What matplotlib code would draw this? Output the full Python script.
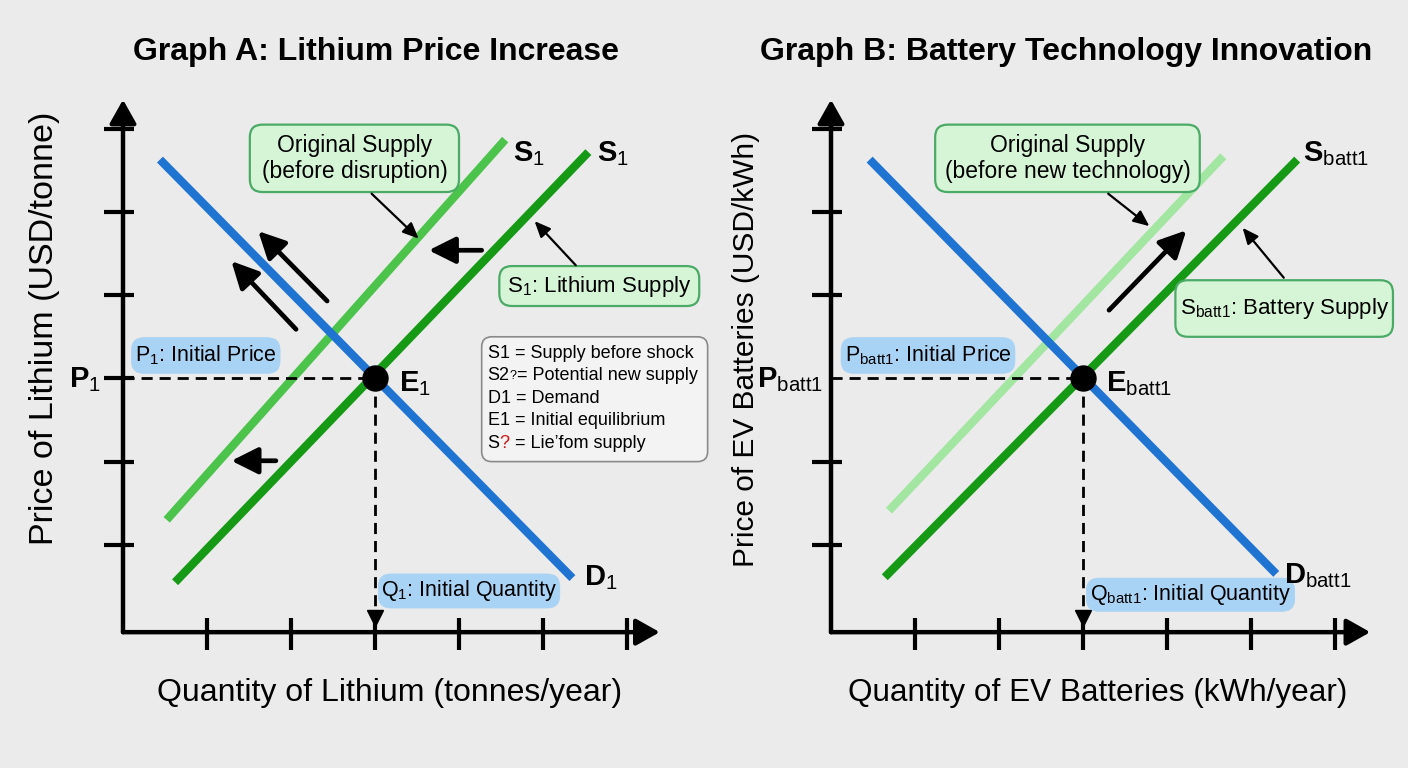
import numpy as np
import matplotlib
matplotlib.use("Agg")
import matplotlib.pyplot as plt
from matplotlib.patches import FancyBboxPatch

plt.rcParams['font.family'] = ['Liberation Sans', 'DejaVu Sans']
plt.rcParams['mathtext.fontset'] = 'custom'
plt.rcParams['mathtext.rm'] = 'Liberation Sans'
plt.rcParams['mathtext.it'] = 'Liberation Sans:italic'
plt.rcParams['mathtext.bf'] = 'Liberation Sans:bold'

# ---- data (graph units: one tick = 1) ----
ticks_x = [1, 2, 3, 4, 5, 6]
ticks_y = [1, 2, 3, 4, 5, 6]

# Graph A: lithium
a_demand_x = [0.44, 5.35]
a_demand_y = [5.63, 0.60]
a_supply_x = [0.62, 5.54]
a_supply_y = [0.55, 5.72]
a_orig_x = [0.52, 4.55]
a_orig_y = [1.30, 5.87]
a_eq = (3.0, 3.0)

# Graph B: batteries
b_demand_x = [0.46, 5.30]
b_demand_y = [5.63, 0.65]
b_supply_x = [0.64, 5.55]
b_supply_y = [0.61, 5.63]
b_orig_x = [0.69, 4.67]
b_orig_y = [1.41, 5.67]
b_eq = (3.0, 3.0)

legend_lines = ["S1 = Supply before shock", "D1 = Demand", "E1 = Initial equilibrium"]

BG = '#ebebeb'
BLUE = '#1f74d2'
DGREEN = '#169a16'
LGREEN_A = '#4cc44c'
LGREEN_B = '#a2e6a2'
GREEN_FC, GREEN_EC = '#d6f5d6', '#4aaa66'
BLUE_FC = '#a9d3f4'

fig = plt.figure(figsize=(14.08, 7.68), dpi=100, facecolor=BG)
W, H = 1408, 768


def make_ax(ox, oy):
    # ox, oy = pixel position of graph origin; 84 px per x unit, 83.2 px per y unit
    ux, uy = 84.0, 83.2
    x0, x1 = -1.2, 7.0
    y0, y1 = -1.2, 7.0
    left = ox + x0 * ux
    bottom = H - (oy - y0 * uy)
    ax = fig.add_axes([left / W, bottom / H, (x1 - x0) * ux / W, (y1 - y0) * uy / H])
    ax.set_xlim(x0, x1)
    ax.set_ylim(y0, y1)
    ax.axis('off')
    ax.patch.set_alpha(0)
    return ax


def draw_axes(ax, xtip, ytip, ptick=True):
    props = dict(arrowstyle='-|>,head_length=0.48,head_width=0.27', lw=3.2, color='k',
                 mutation_scale=30, shrinkA=0, shrinkB=0)
    ax.annotate('', xy=(0, ytip), xytext=(0, -0.05), arrowprops=props)
    ax.annotate('', xy=(xtip, -0.05), xytext=(0, -0.05), arrowprops=props)
    for t in ticks_x:
        ax.plot([t, t], [-0.26, 0.12], color='k', lw=3, solid_capstyle='butt')
    for t in ticks_y:
        if t == 3 and not ptick:
            continue
        ax.plot([-0.23, 0.13], [t, t], color='k', lw=3, solid_capstyle='butt')


def draw_eq(ax, eq):
    q, p = eq
    ax.plot([0, q], [p, p], color='k', lw=2, ls=(0, (4, 2.5)))
    ax.plot([q, q], [p, 0.15], color='k', lw=2, ls=(0, (4, 2.5)))
    ax.plot([q], [0.12], marker='v', color='k', ms=12)
    ax.plot([q], [p], 'o', color='k', ms=18, zorder=6)


def arrow(ax, tail, head, big=True):
    if big:
        props = dict(arrowstyle='-|>,head_width=0.45,head_length=0.9', lw=3.4, color='k',
                     mutation_scale=18, shrinkA=0, shrinkB=0)
    else:
        props = dict(arrowstyle='-|>,head_width=0.35,head_length=0.8', lw=1.6, color='k',
                     mutation_scale=12, shrinkA=0, shrinkB=0)
    ax.annotate('', xy=head, xytext=tail, arrowprops=props, zorder=5)


def box(ax, x0, x1, y0, y1, text, fc, ec, size, lw=1.6, r=0.15):
    ax.add_patch(FancyBboxPatch((x0, y0), x1 - x0, y1 - y0,
                                boxstyle=f'round,pad=0,rounding_size={r}',
                                fc=fc, ec=ec, lw=lw, zorder=3))
    if text:
        ax.text((x0 + x1) / 2, (y0 + y1) / 2, text, ha='center', va='center',
                fontsize=size, linespacing=1.2, zorder=4)


# ================= Graph A =================
axA = make_ax(123, 628)
draw_axes(axA, 6.39, 6.35)
axA.plot(a_orig_x, a_orig_y, color=LGREEN_A, lw=6, solid_capstyle='butt')
axA.plot(a_supply_x, a_supply_y, color=DGREEN, lw=6, solid_capstyle='butt')
axA.plot(a_demand_x, a_demand_y, color=BLUE, lw=6, solid_capstyle='butt')
draw_eq(axA, a_eq)

arrow(axA, (2.43, 3.93), (1.61, 4.77))
arrow(axA, (2.06, 3.59), (1.29, 4.41))
arrow(axA, (4.27, 4.54), (3.64, 4.54))
arrow(axA, (1.82, 2.01), (1.29, 2.01))
arrow(axA, (2.96, 5.22), (3.52, 4.68), big=False)
arrow(axA, (5.39, 4.36), (4.90, 4.89), big=False)

box(axA, 1.51, 4.00, 5.24, 6.05, "Original Supply\n(before disruption)", GREEN_FC, GREEN_EC, 16.5)
box(axA, 4.48, 6.86, 3.87, 4.35, r"S$_1$: Lithium Supply", GREEN_FC, GREEN_EC, 16)
box(axA, 0.10, 1.87, 3.06, 3.49, r"P$_1$: Initial Price", BLUE_FC, BLUE_FC, 15.5, lw=0.5)
box(axA, 3.04, 5.20, 0.24, 0.65, r"Q$_1$: Initial Quantity", BLUE_FC, BLUE_FC, 15.5, lw=0.5)

axA.text(4.64, 5.70, r"$\mathbf{S}_1$", ha='left', va='center', fontsize=21)
axA.text(5.64, 5.70, r"$\mathbf{S}_1$", ha='left', va='center', fontsize=21)
axA.text(5.49, 0.61, r"$\mathbf{D}_1$", ha='left', va='center', fontsize=21)
axA.text(3.29, 2.94, r"$\mathbf{E}_1$", ha='left', va='center', fontsize=21)
axA.text(-0.26, 2.99, r"$\mathbf{P}_1$", ha='right', va='center', fontsize=21)

# legend box
box(axA, 4.27, 6.96, 2.00, 3.50, "", '#f3f3f3', '#8a8a8a', 13, lw=1.2, r=0.12)
lx = 4.34
ly = [3.30, 3.03, 2.76, 2.49, 2.22]
axA.text(lx, ly[0], legend_lines[0], ha='left', va='center', fontsize=13, zorder=4)
s2 = axA.text(lx, ly[1], "S2", ha='left', va='center', fontsize=13, zorder=4)
q2 = axA.annotate("?", xy=(1, 0.12), xycoords=s2, ha='left', va='bottom', fontsize=9, zorder=4)
axA.annotate("= Potential new supply", xy=(1, 0), xycoords=(q2, s2), ha='left', va='bottom',
             fontsize=13, zorder=4)
axA.text(lx, ly[2], legend_lines[1], ha='left', va='center', fontsize=13, zorder=4)
axA.text(lx, ly[3], legend_lines[2], ha='left', va='center', fontsize=13, zorder=4)
t1 = axA.text(lx, ly[4], "S", ha='left', va='center', fontsize=13, zorder=4)
t2 = axA.annotate("?", xy=(1, 0), xycoords=t1, ha='left', va='bottom', fontsize=13,
                  color='#d01818', zorder=4)
axA.annotate(" = Lie\u2019fom supply", xy=(1, 0), xycoords=t2, ha='left', va='bottom',
             fontsize=13, zorder=4)

fig.text(376 / W, 1 - 52 / H, "Graph A: Lithium Price Increase", ha='center', va='center',
         fontsize=23, fontweight='bold')
fig.text(45 / W, 1 - 328 / H, "Price of Lithium (USD/tonne)", ha='center', va='center',
         fontsize=24.5, rotation=90)
fig.text(390 / W, 1 - 693 / H, "Quantity of Lithium (tonnes/year)", ha='center', va='center',
         fontsize=23)

# ================= Graph B =================
axB = make_ax(831, 628)
draw_axes(axB, 6.42, 6.35, ptick=False)
axB.plot(b_orig_x, b_orig_y, color=LGREEN_B, lw=6, solid_capstyle='butt')
axB.plot(b_supply_x, b_supply_y, color=DGREEN, lw=6, solid_capstyle='butt')
axB.plot(b_demand_x, b_demand_y, color=BLUE, lw=6, solid_capstyle='butt')
draw_eq(axB, b_eq)

arrow(axB, (3.31, 3.82), (4.23, 4.78))
arrow(axB, (3.30, 5.22), (3.79, 4.83), big=False)
arrow(axB, (5.39, 4.21), (4.90, 4.81), big=False)

box(axB, 1.24, 4.39, 5.24, 6.05, "Original Supply\n(before new technology)", GREEN_FC, GREEN_EC, 16.5)
box(axB, 4.10, 6.69, 3.50, 4.18, r"S$_{\mathrm{batt1}}$: Battery Supply", GREEN_FC, GREEN_EC, 16)
box(axB, 0.12, 2.19, 3.06, 3.49, r"P$_{\mathrm{batt1}}$: Initial Price", BLUE_FC, BLUE_FC, 15.5, lw=0.5)
box(axB, 3.04, 5.52, 0.20, 0.60, r"Q$_{\mathrm{batt1}}$: Initial Quantity", BLUE_FC, BLUE_FC, 15.5, lw=0.5)

axB.text(5.62, 5.70, r"$\mathbf{S}_{\mathrm{batt1}}$", ha='left', va='center', fontsize=21)
axB.text(5.39, 0.625, r"$\mathbf{D}_{\mathrm{batt1}}$", ha='left', va='center', fontsize=21)
axB.text(3.27, 2.94, r"$\mathbf{E}_{\mathrm{batt1}}$", ha='left', va='center', fontsize=21)
axB.text(-0.1, 2.99, r"$\mathbf{P}_{\mathrm{batt1}}$", ha='right', va='center', fontsize=21)

fig.text(1066 / W, 1 - 52 / H, "Graph B: Battery Technology Innovation", ha='center',
         va='center', fontsize=23, fontweight='bold')
fig.text(746 / W, 1 - 349 / H, "Price of EV Batteries (USD/kWh)", ha='center', va='center',
         fontsize=21.5, rotation=90)
fig.text(1098 / W, 1 - 693 / H, "Quantity of EV Batteries (kWh/year)", ha='center',
         va='center', fontsize=22.7)

fig.savefig("out.png", dpi=100, facecolor=BG)
